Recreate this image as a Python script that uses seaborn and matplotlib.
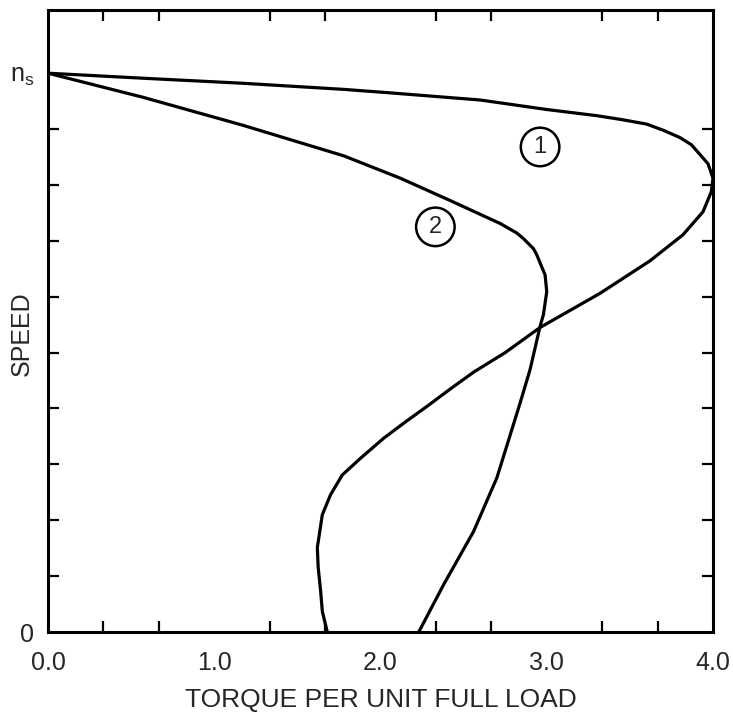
import numpy as np
import matplotlib
matplotlib.use("Agg")
import matplotlib.pyplot as plt
import seaborn as sns

# curve 1: speed (fraction of n_s) vs torque per unit full load
speed_1 = [0.000, 0.037, 0.073, 0.116, 0.151, 0.210, 0.246, 0.281, 0.311, 0.347,
           0.376, 0.405, 0.435, 0.465, 0.500, 0.545, 0.606, 0.664, 0.711, 0.752,
           0.788, 0.812, 0.838, 0.855, 0.872, 0.885, 0.898, 0.909, 0.917, 0.924,
           0.935, 0.952, 0.965, 0.971, 0.982, 0.991, 1.000]
torque_1 = [1.68, 1.65, 1.64, 1.625, 1.62, 1.65, 1.70, 1.77, 1.88, 2.02,
            2.15, 2.285, 2.42, 2.56, 2.75, 2.96, 3.32, 3.62, 3.82, 3.94,
            3.99, 4.00, 3.97, 3.92, 3.87, 3.80, 3.70, 3.60, 3.45, 3.30,
            3.00, 2.60, 2.05, 1.78, 1.17, 0.57, 0.00]

# curve 2
speed_2 = [0.000, 0.085, 0.180, 0.276, 0.410, 0.470, 0.547, 0.568, 0.609, 0.639,
           0.675, 0.686, 0.704, 0.714, 0.731, 0.772, 0.812, 0.852, 0.907, 0.957,
           1.000]
torque_2 = [2.23, 2.38, 2.56, 2.70, 2.84, 2.90, 2.96, 2.98, 3.00, 2.99,
            2.94, 2.92, 2.86, 2.82, 2.72, 2.42, 2.12, 1.78, 1.17, 0.57,
            0.00]

x_ticks = [0, 1, 2, 3, 4]
x_tick_labels = ["0.0", "1.0", "2.0", "3.0", "4.0"]
y_ticks = [0, 1]
y_tick_labels = ["0", r"$\mathregular{n_s}$"]

sns.set_style("ticks")
plt.rcParams["font.family"] = ["Liberation Sans", "DejaVu Sans"]

fig = plt.figure(figsize=(7.33, 7.17), dpi=100)
ax = fig.add_axes([0.0655, 0.1185, 0.9072, 0.8675])

sns.lineplot(x=torque_1, y=speed_1, sort=False, estimator=None,
             color="black", linewidth=2.3, ax=ax)
sns.lineplot(x=torque_2, y=speed_2, sort=False, estimator=None,
             color="black", linewidth=2.3, ax=ax)

ax.set_xlim(0, 4)
ax.set_ylim(0, 1.113)

ax.set_xticks(x_ticks)
ax.set_xticklabels(x_tick_labels)
ax.set_xticks(np.arange(0, 4.01, 1 / 3), minor=True)
ax.set_yticks(y_ticks)
ax.set_yticklabels(y_tick_labels)
ax.set_yticks(np.arange(0, 1.01, 0.1), minor=True)

ax.tick_params(which="both", direction="in", top=True, right=True,
               width=1.6, color="black")
ax.tick_params(which="major", length=0, labelsize=18)
ax.tick_params(axis="x", which="major", pad=14)
ax.tick_params(axis="y", which="major", pad=10)
ax.tick_params(which="minor", length=8)

for s in ax.spines.values():
    s.set_linewidth(2.2)
    s.set_color("black")

ax.set_xlabel("TORQUE PER UNIT FULL LOAD", fontsize=19, labelpad=9)
ax.set_ylabel("SPEED", fontsize=18)
ax.yaxis.set_label_coords(-0.022, 0.48)

circ = dict(boxstyle="circle,pad=0.35", fc="white", ec="black", lw=1.8)
ax.text(2.96, 0.868, "1", fontsize=17, ha="center", va="center", bbox=circ)
ax.text(2.33, 0.725, "2", fontsize=17, ha="center", va="center", bbox=circ)

fig.savefig("out.png", dpi=100, facecolor="white")
